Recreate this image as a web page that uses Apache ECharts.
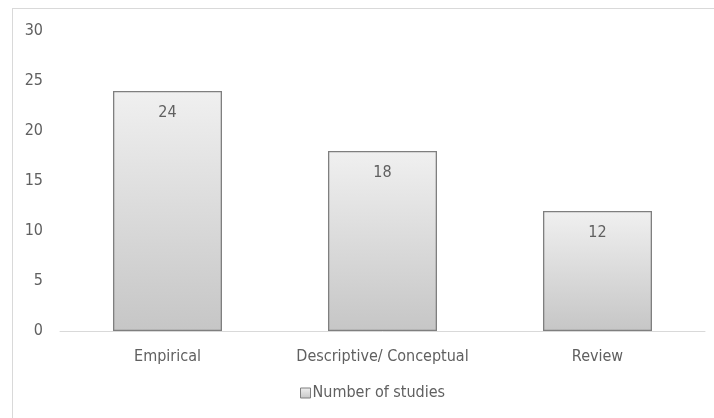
<!DOCTYPE html>
<html>
<head>
<meta charset="utf-8">
<script src="https://cdn.jsdelivr.net/npm/echarts@6/dist/echarts.min.js"></script>
<style>
  html, body { margin: 0; padding: 0; background: #fff; }
  #frame { position: absolute; left: 12px; top: 8px; width: 720px; height: 430px; border: 1px solid #d9d9d9; box-sizing: border-box; }
  #chart { position: absolute; left: 0; top: 0; width: 714px; height: 418px; }
</style>
</head>
<body>
<div id="frame"></div>
<div id="chart"></div>
<script>
// Study counts by publication type
const categories = ['Empirical', 'Descriptive/ Conceptual', 'Review'];
const studyCounts = [24, 18, 12];
const seriesName = 'Number of studies';
const yTicks = { min: 0, max: 30, interval: 5 };

const textColor = '#606060';
const fontFamily = '"Liberation Sans Narrow", "DejaVu Sans Condensed", sans-serif';
const fontSize = 16;

const barFill = new echarts.graphic.LinearGradient(0, 0, 0, 1, [
  { offset: 0, color: '#f0f0f0' },
  { offset: 1, color: '#c6c6c6' }
]);

const chart = echarts.init(document.getElementById('chart'), null, { renderer: 'canvas' });
chart.setOption({
  animation: false,
  backgroundColor: 'transparent',
  grid: { left: 60, right: 9, top: 31, bottom: 87, containLabel: false },
  legend: {
    data: [seriesName],
    top: 385,
    left: 300,
    padding: 0,
    itemWidth: 10,
    itemHeight: 10,
    itemGap: 4,
    icon: 'rect',
    itemStyle: { borderColor: '#7f7f7f', borderWidth: 1 },
    textStyle: { color: textColor, fontSize: fontSize, fontFamily: fontFamily, padding: [0, 0, 0, -3] }
  },
  xAxis: {
    type: 'category',
    data: categories,
    axisLine: { show: true, lineStyle: { color: '#d9d9d9', width: 1 } },
    axisTick: { show: false },
    axisLabel: { interval: 0, hideOverlap: false, color: textColor, fontSize: fontSize, fontFamily: fontFamily, margin: 18 }
  },
  yAxis: {
    type: 'value',
    min: yTicks.min,
    max: yTicks.max,
    interval: yTicks.interval,
    axisLine: { show: false },
    axisTick: { show: false },
    splitLine: { show: false },
    axisLabel: { color: textColor, fontSize: fontSize, fontFamily: fontFamily, margin: 17 }
  },
  series: [{
    name: seriesName,
    type: 'bar',
    data: studyCounts,
    barWidth: '50.7%',
    itemStyle: { color: barFill, borderColor: '#7f7f7f', borderWidth: 1.3 },
    label: {
      show: true,
      position: 'insideTop',
      distance: 14,
      color: textColor,
      fontSize: fontSize,
      fontFamily: fontFamily
    }
  }]
});
</script>
</body>
</html>
